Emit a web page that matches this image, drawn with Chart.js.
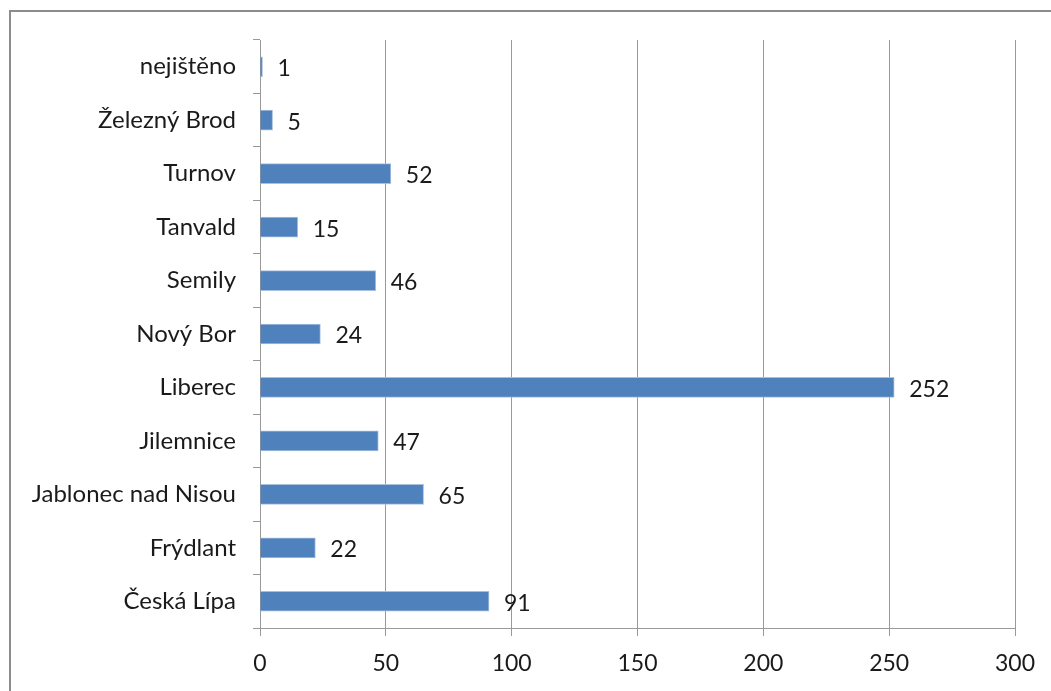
<!DOCTYPE html>
<html>
<head>
<meta charset="utf-8">
<script src="https://cdn.jsdelivr.net/npm/chart.js@4/dist/chart.umd.min.js"></script>
<style>
	html, body { margin: 0; padding: 0; background: #fff; overflow: hidden; }
	#frame {
		position: absolute; left: 9px; top: 10px;
		width: 1100px; height: 800px;
		border: 2px solid #8c8c8c;
	}
	#wrap { position: absolute; left: 0; top: 0; width: 1051px; height: 691px; }
</style>
</head>
<body>
<div id="frame"></div>
<div id="wrap"><canvas id="districts" width="1051" height="691"></canvas></div>
<script>
const districts = ['nejištěno', 'Železný Brod', 'Turnov', 'Tanvald', 'Semily', 'Nový Bor', 'Liberec', 'Jilemnice', 'Jablonec nad Nisou', 'Frýdlant', 'Česká Lípa'];
const counts = [1, 5, 52, 15, 46, 24, 252, 47, 65, 22, 91];
const axisMax = 300;
const axisStep = 50;

const fontFamily = 'Lato, "Open Sans", sans-serif';

// writes the value just right of each bar
const valueLabels = {
	id: 'valueLabels',
	afterDatasetsDraw(chart) {
		const c = chart.ctx;
		c.save();
		c.font = '23px ' + fontFamily;
		c.fillStyle = '#1a1a1a';
		c.textBaseline = 'middle';
		c.textAlign = 'left';
		chart.getDatasetMeta(0).data.forEach((bar, i) => {
			c.fillText(counts[i], bar.x + 15, bar.y + 2);
		});
		c.restore();
	}
};

const ctx = document.getElementById('districts').getContext('2d');

new Chart(ctx, {
	type: 'bar',
	data: {
		labels: districts,
		datasets: [
			{
				data: counts,
				backgroundColor: '#4f81bd',
				borderColor: '#a7c0de',
				borderWidth: 1,
				barThickness: 20,
			},
		],
	},
	options: {
		indexAxis: 'y',
		responsive: false,
		animation: false,
		layout: {
			padding: { left: 0, right: 36, top: 40, bottom: 0 },
		},
		plugins: {
			legend: { display: false },
			tooltip: { enabled: false },
		},
		scales: {
			x: {
				min: 0,
				max: axisMax,
				ticks: {
					stepSize: axisStep,
					color: '#1a1a1a',
					font: { family: fontFamily, size: 23 },
					padding: 14,
				},
				grid: {
					color: '#999',
					lineWidth: 1,
					tickLength: 8,
				},
				border: { color: '#999', width: 1 },
				afterFit(scale) { scale.height = 63; },
			},
			y: {
				ticks: {
					color: '#1a1a1a',
					font: { family: fontFamily, size: 24 },
					padding: 17,
				},
				grid: {
					drawOnChartArea: false,
					color: '#999',
					tickLength: 7,
				},
				border: { color: '#999', width: 1 },
				afterFit(scale) { scale.width = 260; },
			},
		},
	},
	plugins: [valueLabels],
});
</script>
</body>
</html>
